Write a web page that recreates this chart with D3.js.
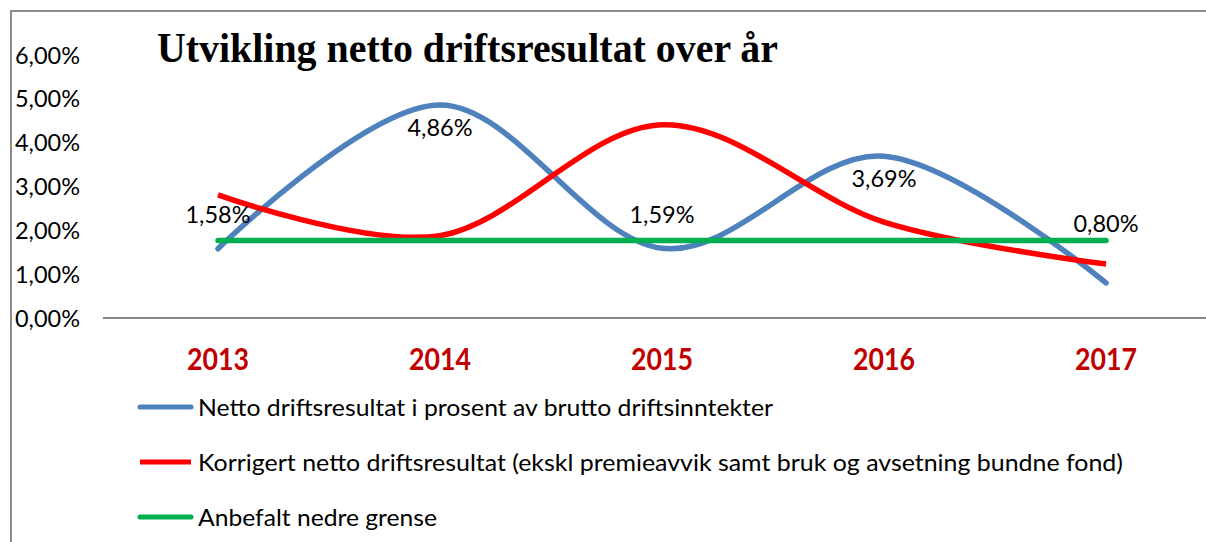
<!DOCTYPE html>
<html>
<head>
<meta charset="utf-8">
<script src="https://cdn.jsdelivr.net/npm/d3@7"></script>
<style>
  body { margin: 0; background: #fff; }
  text { font-family: Lato, "Open Sans", sans-serif; }
</style>
</head>
<body>
<div id="chart"></div>
<script>
// Chart data
var years = ["2013", "2014", "2015", "2016", "2017"];
var nettoValues = [1.58, 4.86, 1.59, 3.69, 0.80];
var korrigertValues = [2.81, 1.88, 4.41, 2.19, 1.23];
var grenseValues = [1.77, 1.77, 1.77, 1.77, 1.77];
var yTicks = [0, 1, 2, 3, 4, 5, 6];
var seriesNames = [
    "Netto driftsresultat i prosent av brutto driftsinntekter",
    "Korrigert netto driftsresultat (ekskl premieavvik samt bruk og avsetning bundne fond)",
    "Anbefalt nedre grense"
];
var titleText = "Utvikling netto driftsresultat over år";

// label offsets (px) for the blue data labels
var labelOffsets = [-34, 22, -34, 22, -60];

var width = 1206,
    height = 542;

var fmt = function(v) { return v.toFixed(2).replace(".", ",") + "%"; };

var svg = d3.select("#chart")
    .append("svg")
    .attr("width", width)
    .attr("height", height);

// outer chart border (right and bottom fall outside the picture)
svg.append("rect")
    .attr("x", 11)
    .attr("y", 11)
    .attr("width", 1230)
    .attr("height", 560)
    .attr("fill", "none")
    .attr("stroke", "#8c8c8c")
    .attr("stroke-width", 2);

// scales
var x = d3.scalePoint()
    .domain(years)
    .range([107, 1217])
    .padding(0.5);

var y = d3.scaleLinear()
    .domain([0, 6])
    .range([318, 55]);

// y tick labels
svg.append("g")
    .selectAll("text")
    .data(yTicks)
    .enter()
    .append("text")
    .attr("x", 80)
    .attr("y", d => y(d))
    .attr("dy", "0.36em")
    .attr("text-anchor", "end")
    .attr("textLength", 65)
    .attr("lengthAdjust", "spacingAndGlyphs")
    .style("font-size", "24px")
    .attr("fill", "#000")
    .text(d => fmt(d));

// x axis line
svg.append("line")
    .attr("x1", 103)
    .attr("x2", 1217)
    .attr("y1", y(0))
    .attr("y2", y(0))
    .attr("stroke", "#868686")
    .attr("stroke-width", 2);

// year labels
svg.append("g")
    .selectAll("text")
    .data(years)
    .enter()
    .append("text")
    .attr("x", d => x(d))
    .attr("y", 370)
    .attr("text-anchor", "middle")
    .attr("textLength", 62)
    .attr("lengthAdjust", "spacingAndGlyphs")
    .style("font-size", "30px")
    .style("font-weight", "bold")
    .attr("fill", "#c00000")
    .text(d => d);

// title
svg.append("text")
    .attr("x", 157)
    .attr("y", 62)
    .attr("textLength", 621)
    .attr("lengthAdjust", "spacingAndGlyphs")
    .style("font-family", "'Liberation Serif', 'DejaVu Serif', serif")
    .style("font-size", "42px")
    .style("font-weight", "bold")
    .attr("fill", "#000")
    .text(titleText);

// lines
var series = [
    { name: seriesNames[0], values: nettoValues, color: "#4f81bd", cap: "round" },
    { name: seriesNames[1], values: korrigertValues, color: "#ff0000", cap: "butt" },
    { name: seriesNames[2], values: grenseValues, color: "#00b050", cap: "round" }
];

var line = d3.line()
    .x((d, i) => x(years[i]))
    .y(d => y(d))
    .curve(d3.curveCardinal.tension(0));

svg.append("g")
    .selectAll("path")
    .data(series)
    .enter()
    .append("path")
    .attr("d", d => line(d.values))
    .attr("fill", "none")
    .attr("stroke", d => d.color)
    .attr("stroke-width", 5.5)
    .attr("stroke-linecap", d => d.cap);

// data labels for the blue series
svg.append("g")
    .selectAll("text")
    .data(nettoValues)
    .enter()
    .append("text")
    .attr("x", (d, i) => x(years[i]))
    .attr("y", (d, i) => y(d) + labelOffsets[i])
    .attr("dy", "0.36em")
    .attr("text-anchor", "middle")
    .attr("textLength", 65)
    .attr("lengthAdjust", "spacingAndGlyphs")
    .style("font-size", "24px")
    .attr("fill", "#000")
    .text(d => fmt(d));

// legend
var legendWidths = [575, 925, 239];
var legend = svg.append("g")
    .selectAll("g")
    .data(series)
    .enter()
    .append("g")
    .attr("transform", (d, i) => "translate(0," + (407 + i * 55) + ")");

legend.append("line")
    .attr("x1", 140)
    .attr("x2", 191)
    .attr("stroke", d => d.color)
    .attr("stroke-width", 5)
    .attr("stroke-linecap", d => d.cap);

legend.append("text")
    .attr("x", 198)
    .attr("dy", "0.36em")
    .attr("textLength", (d, i) => legendWidths[i])
    .attr("lengthAdjust", "spacingAndGlyphs")
    .style("font-size", "24px")
    .attr("fill", "#000")
    .text(d => d.name);
</script>
</body>
</html>
